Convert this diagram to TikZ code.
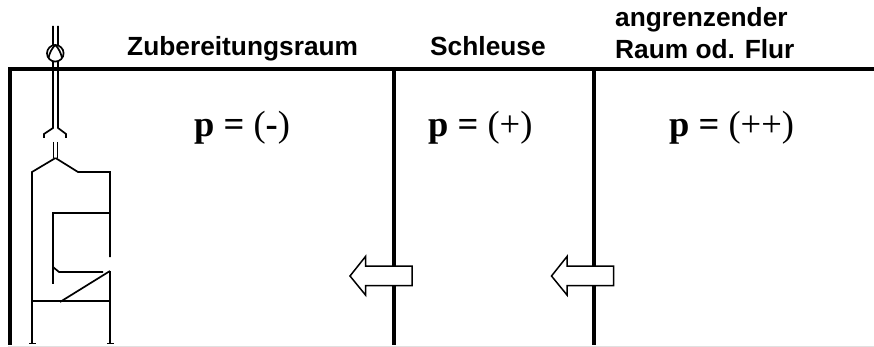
\documentclass[tikz,border=0pt]{standalone}
\usepackage{fontspec}
\setmainfont{Liberation Sans}
\newfontfamily\seriffam{Liberation Serif}
\tikzset{
  wall/.style={line width=4pt,black},
  duct/.style={line width=1.7pt,black},
  flow/.style={line width=1.5pt,black,fill=white,line join=miter},
  roomlabel/.style={inner sep=0pt,font=\bfseries\fontsize{26.3}{30}\selectfont,align=left},
  presslabel/.style={inner sep=0pt,font=\seriffam\fontsize{36.5}{40}\selectfont}
}
\begin{document}
\begin{tikzpicture}[x=1pt,y=-1pt]
\useasboundingbox (0,0) rectangle (874,347);
\fill[white] (0,0) rectangle (874,347);
\draw[line width=1pt,black!12] (8,346) -- (874,346);
% walls
\draw[wall] (8,69.5) -- (874,69.5);
\draw[wall] (10,68) -- (10,345);
\draw[wall] (393.5,68) -- (393.5,345);
\draw[wall] (593.5,68) -- (593.5,345);
% duct and fan
\draw[duct] (53,26) -- (53,128) -- (44,134) -- (44,138);
\draw[duct] (58,26) -- (58,128) -- (66,134) -- (66,138);
\draw[duct,fill=white] (55.3,53.3) circle (8.3);
\draw[duct] (48.5,58) .. controls (49.5,53) and (52,48) .. (55.3,45);
\draw[duct] (62,58) .. controls (61,53) and (58.5,48) .. (55.3,45);
\draw[duct] (53.5,142) -- (53.5,158);
\draw[duct] (57.5,142) -- (57.5,158);
% unit
\draw[duct] (55.5,158) -- (32,172) -- (32,343);
\draw[duct] (55.5,158) -- (78,172) -- (110,172) -- (110,257);
\draw[duct] (110,213) -- (53,213) -- (53,284);
\draw[duct] (53,267) -- (59,272) -- (103,272);
\draw[duct] (110,271) -- (60,302);
\draw[duct] (110,271) -- (110,343);
\draw[duct] (32,301) -- (110,301);
\draw[duct] (29,343.5) -- (36,343.5);
\draw[duct] (107,343.5) -- (113.5,343.5);
% flow arrows
\draw[flow] (350,276) -- (365.5,256.5) -- (365.5,266) -- (412,266) -- (412,285.5) -- (365.5,285.5) -- (365.5,295) -- cycle;
\draw[flow] (551.5,276) -- (567,256.5) -- (567,266) -- (613.5,266) -- (613.5,285.5) -- (567,285.5) -- (567,295) -- cycle;
% labels
\node[roomlabel,anchor=base west] (zub) at (127,56) {Zubereitungsraum};
\node[roomlabel,anchor=base west] (sch) at (430,56) {Schleuse};
\node[roomlabel,anchor=base west] (ang) at (615,27) {angrenzender};
\node[roomlabel,anchor=base west] (rau) at (615,59) {Raum od. Flur};
\node[presslabel,anchor=base west] (p1) at (194,137) {\textbf{p = }(\textbf{-})};
\node[presslabel,anchor=base west] (p2) at (428,137) {\textbf{p = }(+)};
\node[presslabel,anchor=base west] (p3) at (669,137) {\textbf{p = }(++)};
\end{tikzpicture}
\end{document}
